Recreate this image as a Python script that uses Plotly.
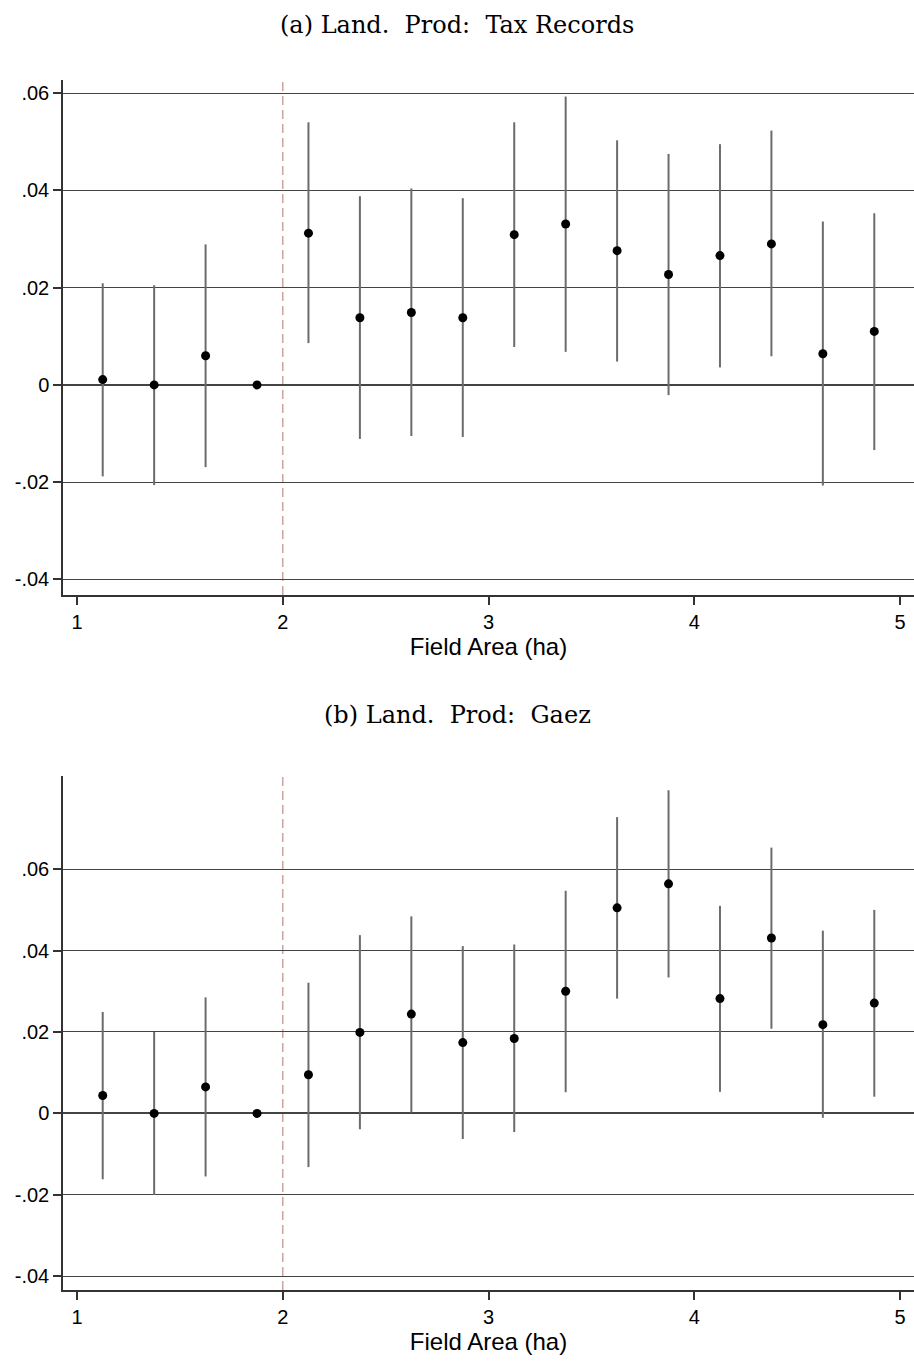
import plotly.graph_objects as go

# ---- data ----
field_area = [1.125, 1.375, 1.625, 1.875, 2.125, 2.375, 2.625, 2.875,
              3.125, 3.375, 3.625, 3.875, 4.125, 4.375, 4.625, 4.875]

coef_a = [0.0011, 0.0000, 0.0060, 0.0000, 0.0312, 0.0138, 0.0149, 0.0138,
          0.0309, 0.0331, 0.0276, 0.0227, 0.0266, 0.0290, 0.0064, 0.0110]
hi_a = [0.0209, 0.0205, 0.0289, 0.0000, 0.0540, 0.0388, 0.0404, 0.0384,
        0.0540, 0.0593, 0.0503, 0.0475, 0.0495, 0.0523, 0.0336, 0.0353]
lo_a = [-0.0188, -0.0206, -0.0169, 0.0000, 0.0086, -0.0111, -0.0105, -0.0107,
        0.0078, 0.0068, 0.0048, -0.0021, 0.0036, 0.0059, -0.0207, -0.0134]

coef_b = [0.0044, 0.0000, 0.0065, 0.0000, 0.0095, 0.0199, 0.0244, 0.0174,
          0.0184, 0.0300, 0.0505, 0.0564, 0.0282, 0.0431, 0.0218, 0.0271]
hi_b = [0.0249, 0.0200, 0.0285, 0.0000, 0.0321, 0.0438, 0.0484, 0.0411,
        0.0415, 0.0547, 0.0728, 0.0794, 0.0510, 0.0653, 0.0449, 0.0500]
lo_b = [-0.0162, -0.0200, -0.0155, 0.0000, -0.0132, -0.0039, 0.0002, -0.0063,
        -0.0046, 0.0052, 0.0282, 0.0334, 0.0053, 0.0208, -0.0011, 0.0041]

x_ticks = [1, 2, 3, 4, 5]
y_tickvals = [-0.04, -0.02, 0, 0.02, 0.04, 0.06]
y_ticktext = ["-.04", "-.02", "0", ".02", ".04", ".06"]
cutoff = 2

titles = ["(a) Land.\u00a0 Prod:\u00a0 Tax Records", "(b) Land.\u00a0 Prod:\u00a0 Gaez"]
x_title = "Field Area (ha)"

W, H = 914, 1362
SANS = "Liberation Sans, Arial, sans-serif"
SERIF = "DejaVu Serif, serif"

fig = go.Figure()

panels = [
    (coef_a, lo_a, hi_a, "x", "y"),
    (coef_b, lo_b, hi_b, "x2", "y2"),
]
for coef, lo, hi, xa, ya in panels:
    fig.add_trace(go.Scatter(
        x=field_area, y=coef, mode="markers", xaxis=xa, yaxis=ya,
        marker=dict(color="black", size=9),
        error_y=dict(type="data", symmetric=False,
                     array=[h - c for h, c in zip(hi, coef)],
                     arrayminus=[c - l for c, l in zip(coef, lo)],
                     color="#6b6b6b", thickness=2, width=0),
        showlegend=False, cliponaxis=False,
    ))

def ydom(top_px, bot_px):
    return [(H - bot_px) / H, (H - top_px) / H]

xdom = [63 / W, 1.0]
axis_common = dict(showline=True, linecolor="#333333", linewidth=1.5,
                   ticks="outside", ticklen=8, tickcolor="#333333", tickwidth=1.5,
                   tickfont=dict(family=SANS, size=20, color="black"),
                   mirror=False)
xtitle = dict(text=x_title, font=dict(family=SANS, size=24, color="black"), standoff=6)

fig.update_layout(
    width=W, height=H,
    paper_bgcolor="white", plot_bgcolor="white",
    margin=dict(l=0, r=0, t=0, b=0),
    xaxis=dict(domain=xdom, anchor="y", range=[0.932, 5.068], tickvals=x_ticks,
               showgrid=False, zeroline=False, title=xtitle, **axis_common),
    yaxis=dict(domain=ydom(80, 595), anchor="x", range=[-0.0432, 0.0627],
               tickvals=y_tickvals, ticktext=y_ticktext,
               showgrid=True, gridcolor="#444444", gridwidth=1,
               zeroline=True, zerolinecolor="#444444", zerolinewidth=2,
               **axis_common),
    xaxis2=dict(domain=xdom, anchor="y2", range=[0.932, 5.068], tickvals=x_ticks,
                showgrid=False, zeroline=False, title=xtitle, **axis_common),
    yaxis2=dict(domain=ydom(776, 1290), anchor="x2", range=[-0.0434, 0.0829],
                tickvals=y_tickvals, ticktext=y_ticktext,
                showgrid=True, gridcolor="#444444", gridwidth=1,
                zeroline=True, zerolinecolor="#444444", zerolinewidth=2,
                **axis_common),
)

for xa, ya in [("x", "y"), ("x2", "y2")]:
    fig.add_shape(type="line", xref=xa, yref=f"{ya} domain",
                  x0=cutoff, x1=cutoff, y0=0, y1=1,
                  line=dict(color="#c6a69f", width=1.5, dash="9px,5px"), layer="below")

title_y_px = [25, 715]
for t, ypx in zip(titles, title_y_px):
    fig.add_annotation(text=t, xref="paper", yref="paper", x=0.5, y=(H - ypx) / H,
                       showarrow=False, xanchor="center", yanchor="middle",
                       font=dict(family=SERIF, size=24, color="black"))

fig.write_html("out.html", config={"displayModeBar": False},
               post_script="document.body.style.margin='0px';")
